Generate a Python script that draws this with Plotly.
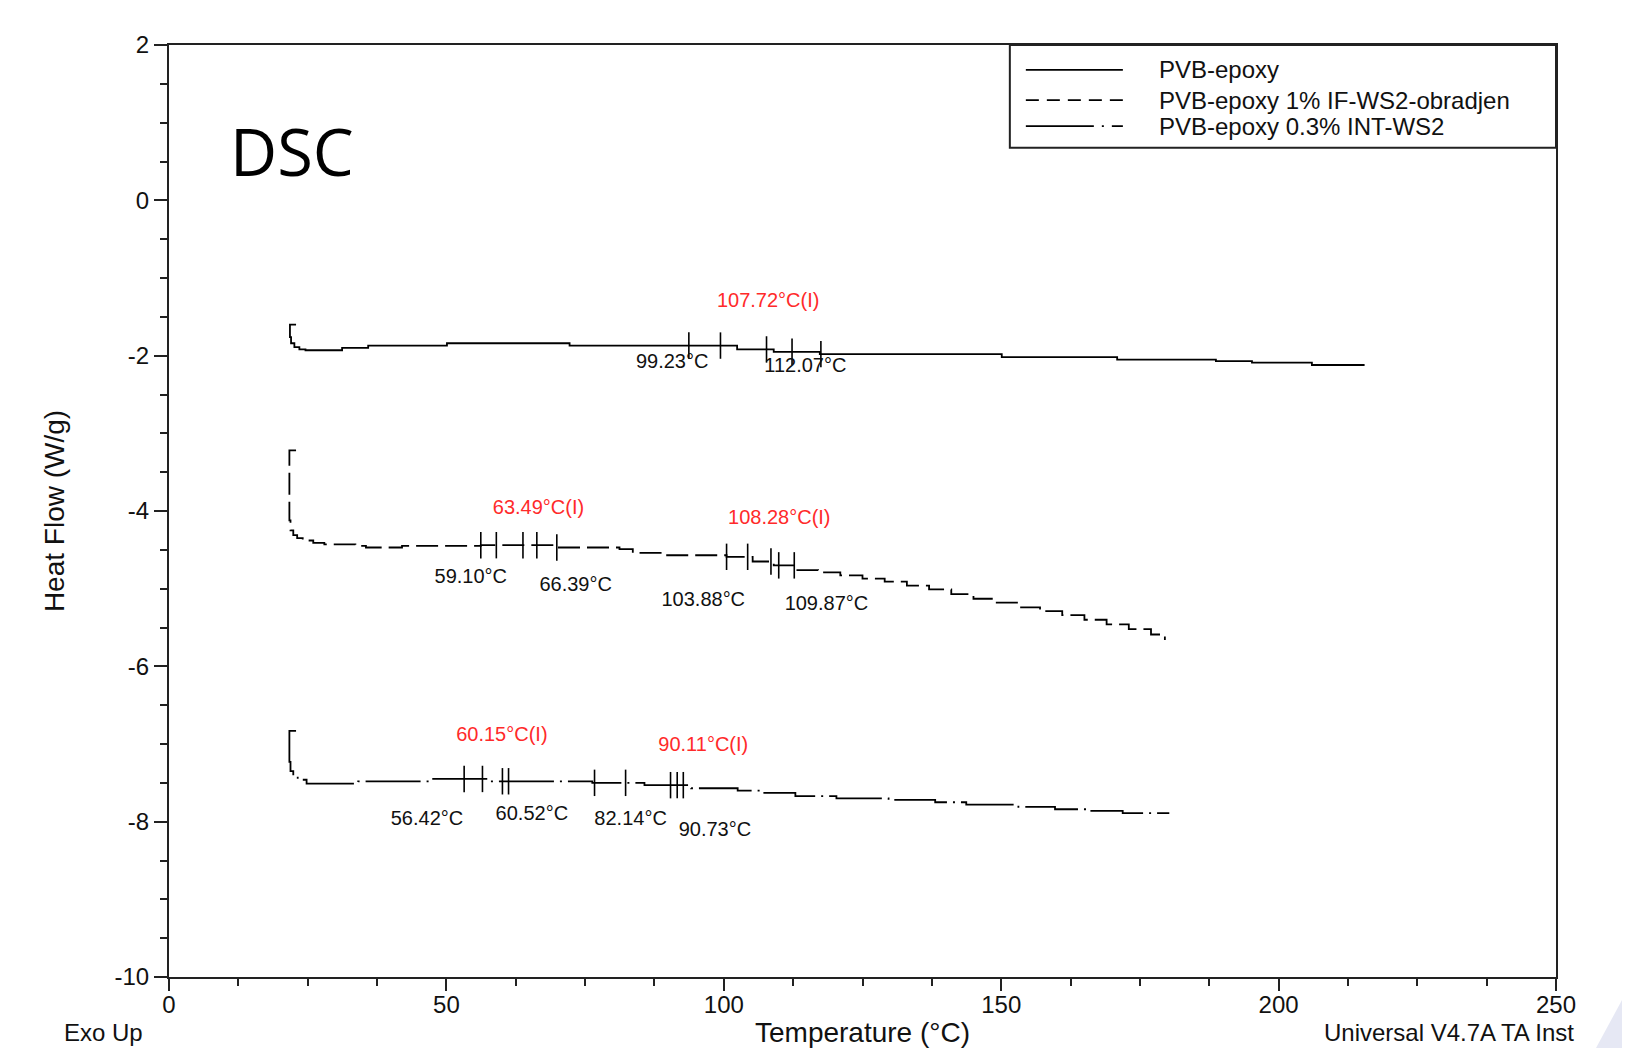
import plotly.graph_objects as go
import numpy as np

# ---------------- data ----------------
series_names = ["PVB-epoxy", "PVB-epoxy 1% IF-WS2-obradjen", "PVB-epoxy 0.3% INT-WS2"]

# PVB-epoxy (step levels, hv)
temp_1 = [22.9, 21.8, 21.8, 22.0, 22.6, 23.5, 24.6, 31.2, 35.9, 50.1, 72.2, 102.4, 109.0,
          117.3, 150.1, 170.9, 188.7, 195.2, 206.0, 215.5]
flow_1 = [-1.60, -1.60, -1.76, -1.84, -1.89, -1.92, -1.93, -1.90, -1.87, -1.84, -1.87, -1.92, -1.95,
          -1.98, -2.02, -2.05, -2.07, -2.09, -2.12, -2.12]

# PVB-epoxy 1% IF-WS2-obradjen
temp_2 = [22.9, 21.7, 21.7, 21.9, 22.4, 23.1, 24.1, 26.0, 28.0, 33.6, 35.5, 42.0, 56.2, 69.9,
          81.2, 83.6, 89.2, 100.5, 105.2, 109.0, 112.8, 117.0, 121.0, 125.0, 129.0, 133.0,
          137.0, 141.0, 145.0, 149.0, 153.0, 157.0, 161.0, 165.0, 169.0, 173.0, 177.0, 179.5]
flow_2 = [-3.22, -3.22, -4.12, -4.25, -4.31, -4.35, -4.38, -4.41, -4.43, -4.45, -4.47, -4.45, -4.44, -4.47,
          -4.49, -4.54, -4.57, -4.59, -4.65, -4.70, -4.76, -4.79, -4.83, -4.87, -4.91, -4.96,
          -5.01, -5.07, -5.13, -5.18, -5.24, -5.29, -5.34, -5.40, -5.46, -5.52, -5.59, -5.66]

# PVB-epoxy 0.3% INT-WS2
temp_3 = [22.9, 21.7, 21.7, 21.9, 22.4, 23.2, 24.8, 34.1, 47.2, 57.5, 76.3, 85.7, 94.1, 102.5,
          107.3, 112.9, 120.3, 129.7, 138.1, 143.7, 153.1, 159.7, 165.3, 171.9, 180.3]
flow_3 = [-6.83, -6.83, -7.23, -7.35, -7.42, -7.46, -7.51, -7.48, -7.45, -7.48, -7.50, -7.53, -7.57, -7.60,
          -7.63, -7.67, -7.70, -7.72, -7.75, -7.78, -7.81, -7.84, -7.86, -7.89, -7.89]

# analysis markers (temperatures of the small vertical ticks on each curve)
marks_1 = [93.7, 99.4, 107.7, 112.3, 117.5]
marks_2 = [56.2, 59.0, 63.8, 66.3, 69.9, 100.5, 104.3, 108.5, 109.9, 112.7]
marks_3 = [53.2, 56.5, 60.1, 61.2, 76.7, 82.3, 90.4, 91.6, 92.7]

# labels: text, x, y
glass_labels = ["107.72°C(I)", "63.49°C(I)", "108.28°C(I)", "60.15°C(I)", "90.11°C(I)"]
glass_x = [108.0, 66.6, 110.0, 60.0, 96.3]
glass_y = [-1.31, -3.97, -4.10, -6.90, -7.03]

limit_labels = ["99.23°C", "112.07°C", "59.10°C", "66.39°C", "103.88°C", "109.87°C",
                "56.42°C", "60.52°C", "82.14°C", "90.73°C"]
limit_x = [90.7, 114.7, 54.4, 73.3, 96.3, 118.5, 46.5, 65.4, 83.2, 98.4]
limit_y = [-2.09, -2.15, -4.86, -4.97, -5.16, -5.21, -7.98, -7.91, -7.98, -8.12]

x_ticks = [0, 50, 100, 150, 200, 250]
y_ticks = [2, 0, -2, -4, -6, -8, -10]

# ---------------- figure ----------------
FONT = "Liberation Sans, Arial, sans-serif"
dashes = ["solid", "22px,7px", "55px,6px,2px,6px"]
legend_dashes = ["solid", "13px,8px", "68px,8px,2px,8px"]

fig = go.Figure()

temps = [temp_1, temp_2, temp_3]
flows = [flow_1, flow_2, flow_3]
marks = [marks_1, marks_2, marks_3]


def step_at(xs, ys, t):
    val = ys[0]
    for x, y in zip(xs, ys):
        if x <= t:
            val = y
    return val


for name, xs, ys, dsh in zip(series_names, temps, flows, dashes):
    fig.add_trace(go.Scatter(x=xs, y=ys, mode="lines", name=name, showlegend=False,
                             line=dict(color="black", width=1.8, dash=dsh, shape="hv")))

half = 0.17
for xs, ys, mk in zip(temps, flows, marks):
    tx, ty = [], []
    for t in mk:
        c = step_at(xs, ys, t)
        tx += [t, t, None]
        ty += [c - half, c + half, None]
    fig.add_trace(go.Scatter(x=tx, y=ty, mode="lines", showlegend=False, hoverinfo="skip",
                             line=dict(color="black", width=1.6)))

fig.add_trace(go.Scatter(x=glass_x, y=glass_y, text=glass_labels, mode="text", showlegend=False,
                         textfont=dict(family=FONT, size=20, color="#ff2a2a")))
fig.add_trace(go.Scatter(x=limit_x, y=limit_y, text=limit_labels, mode="text", showlegend=False,
                         textfont=dict(family=FONT, size=20, color="#111111")))

# page has an 8px body margin: figure is placed at (8, 8)
OFF = 8
FIG_W, FIG_H = 1614, 1040
# plot geometry in page pixels
L, R, T, B = 169.4, 1556.0, 44.7, 977.0
W, H = R - L, B - T


def px(x):
    return (x - L) / W


def py(y):
    return 1 - (y - T) / H


shapes = []
annotations = []
# legend box
shapes.append(dict(type="rect", xref="paper", yref="paper", x0=px(1010), x1=1, y0=py(147.6), y1=1,
                   line=dict(color="#222", width=2), fillcolor="white", layer="above"))
row_y = [69.6, 99.8, 125.8]
for name, ld, ry in zip(series_names, legend_dashes, row_y):
    shapes.append(dict(type="line", xref="paper", yref="paper", x0=px(1026), x1=px(1123),
                       y0=py(ry), y1=py(ry), line=dict(color="black", width=1.8, dash=ld), layer="above"))
    annotations.append(dict(xref="paper", yref="paper", x=px(1157), y=py(ry), text=name,
                            showarrow=False, xanchor="left", yanchor="middle",
                            font=dict(family=FONT, size=24, color="#111")))

# decoration at bottom-right corner
shapes.append(dict(type="path", xref="paper", yref="paper",
                   path=f"M {px(1596)} {py(1048)} L {px(1622)} {py(1000)} L {px(1622)} {py(1048)} Z",
                   fillcolor="#e6e8f4", line=dict(width=0), layer="below"))

annotations.append(dict(xref="paper", yref="paper", x=px(292), y=py(151), text="DSC", showarrow=False,
                        xanchor="center", yanchor="middle",
                        font=dict(family="Open Sans, sans-serif", size=65, color="black")))
annotations.append(dict(xref="paper", yref="paper", x=px(62), y=py(1048), text="Exo Up", showarrow=False,
                        xanchor="left", yanchor="bottom", font=dict(family=FONT, size=24, color="#111")))
annotations.append(dict(xref="paper", yref="paper", x=px(1322), y=py(1048), text="Universal V4.7A TA Inst",
                        showarrow=False, xanchor="left", yanchor="bottom",
                        font=dict(family=FONT, size=24, color="#111")))

fig.update_layout(
    width=FIG_W, height=FIG_H,
    margin=dict(l=L - OFF, r=OFF + FIG_W - R, t=T - OFF, b=OFF + FIG_H - B),
    paper_bgcolor="white", plot_bgcolor="white",
    shapes=shapes, annotations=annotations,
    showlegend=False,
    xaxis=dict(range=[0, 250], tickvals=x_ticks, ticktext=[str(v) for v in x_ticks], automargin=False,
               ticks="outside", ticklen=12, tickwidth=1.6, tickcolor="#222", ticklabelstandoff=-7,
               minor=dict(dtick=12.5, ticks="outside", ticklen=7, tickwidth=1.6, tickcolor="#222"),
               showline=True, linecolor="#222", linewidth=2, mirror=True, showgrid=False, zeroline=False,
               tickfont=dict(family=FONT, size=24, color="#111"),
               title=dict(text="Temperature (°C)", font=dict(family=FONT, size=28, color="#111"), standoff=11)),
    yaxis=dict(range=[-10, 2], tickvals=y_ticks, ticktext=[str(v) for v in y_ticks], automargin=False,
               ticks="outside", ticklen=13, tickwidth=1.6, tickcolor="#222",
               minor=dict(dtick=0.5, ticks="outside", ticklen=7, tickwidth=1.6, tickcolor="#222"),
               showline=True, linecolor="#222", linewidth=2, mirror=True, showgrid=False, zeroline=False,
               tickfont=dict(family=FONT, size=24, color="#111"),
               title=dict(text="Heat Flow (W/g)", font=dict(family=FONT, size=28, color="#111"), standoff=42)),
)

fig.write_html("out.html")
